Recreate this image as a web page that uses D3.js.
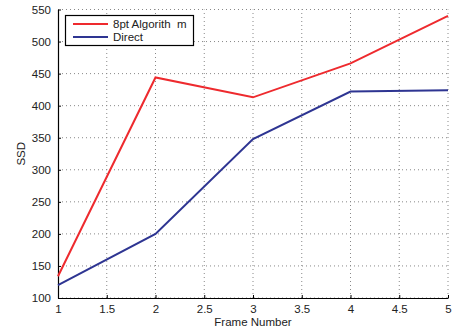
<!DOCTYPE html>
<html>
<head>
<meta charset="utf-8">
<script src="https://cdn.jsdelivr.net/npm/d3@7"></script>
<style>
  body { margin: 0; background: #fff; }
  text { font-family: "Liberation Sans", Arial, sans-serif; fill: #222; }
</style>
</head>
<body>
<div id="chart"></div>
<script>
const frames = [1, 2, 3, 4, 5];
const algo8pt = [134, 444, 413, 466, 540];
const direct = [120, 200, 348, 422, 424];
const xTicks = [1, 1.5, 2, 2.5, 3, 3.5, 4, 4.5, 5];
const yTicks = [100, 150, 200, 250, 300, 350, 400, 450, 500, 550];
const seriesNames = ['8pt Algorith  m', 'Direct'];
const seriesColors = ['#ee2a2e', '#2e3592'];

const width = 454, height = 329;
const margin = { left: 58, right: 6, top: 9.5, bottom: 31 };

const svg = d3.select('#chart').append('svg')
    .attr('width', width)
    .attr('height', height);

const x = d3.scaleLinear().domain([1, 5]).range([margin.left, width - margin.right]);
const y = d3.scaleLinear().domain([100, 550]).range([height - margin.bottom, margin.top]);

// Grid
const grid = svg.append('g');
grid.selectAll('.gx').data(xTicks.slice(1)).enter().append('line')
    .attr('x1', d => x(d)).attr('x2', d => x(d))
    .attr('y1', y(100)).attr('y2', y(550))
    .attr('stroke', '#888').attr('stroke-width', 1)
    .attr('stroke-dasharray', '1,3');
grid.selectAll('.gy').data(yTicks).enter().append('line')
    .attr('x1', x(1)).attr('x2', x(5))
    .attr('y1', d => y(d)).attr('y2', d => y(d))
    .attr('stroke', '#888').attr('stroke-width', 1)
    .attr('stroke-dasharray', '1,3');

// Axes
const xAxis = svg.append('g')
    .attr('transform', `translate(0,${y(100)})`)
    .call(d3.axisBottom(x).tickValues(xTicks).tickFormat(d3.format('')).tickSizeInner(-3).tickSizeOuter(0).tickPadding(7));
const yAxis = svg.append('g')
    .attr('transform', `translate(${x(1)},0)`)
    .call(d3.axisLeft(y).tickValues(yTicks).tickSizeInner(-3).tickSizeOuter(0).tickPadding(7));
[xAxis, yAxis].forEach(a => {
    a.select('.domain').attr('stroke', '#000').attr('stroke-width', 1.2);
    a.selectAll('.tick line').attr('stroke', '#000');
    a.selectAll('.tick text').attr('font-size', 11.5).style('fill', '#222');
    a.attr('font-family', null);
});

// Lines
const line = d3.line().x((d, i) => x(frames[i])).y(d => y(d));
[algo8pt, direct].forEach((s, i) => {
    svg.append('path')
        .datum(s)
        .attr('fill', 'none')
        .attr('stroke', seriesColors[i])
        .attr('stroke-width', 2)
        .attr('d', line);
});

// Labels
svg.append('text')
    .attr('x', (x(1) + x(5)) / 2)
    .attr('y', 326)
    .attr('text-anchor', 'middle')
    .attr('font-size', 11.5)
    .text('Frame Number');
svg.append('text')
    .attr('transform', `translate(25,${(y(100) + y(550)) / 2}) rotate(-90)`)
    .attr('text-anchor', 'middle')
    .attr('font-size', 11.5)
    .text('SSD');

// Legend
const legend = svg.append('g');
legend.append('rect')
    .attr('x', 65.5).attr('y', 15.5)
    .attr('width', 128).attr('height', 30)
    .attr('fill', '#fff').attr('stroke', '#000').attr('stroke-width', 1.2);
seriesNames.forEach((name, i) => {
    const ly = 24 + i * 13;
    legend.append('line')
        .attr('x1', 73).attr('x2', 108)
        .attr('y1', ly).attr('y2', ly)
        .attr('stroke', seriesColors[i]).attr('stroke-width', 2);
    legend.append('text')
        .attr('x', 113).attr('y', ly + 4)
        .attr('font-size', 11.5)
        .style('white-space', 'pre')
        .text(name);
});
</script>
</body>
</html>
